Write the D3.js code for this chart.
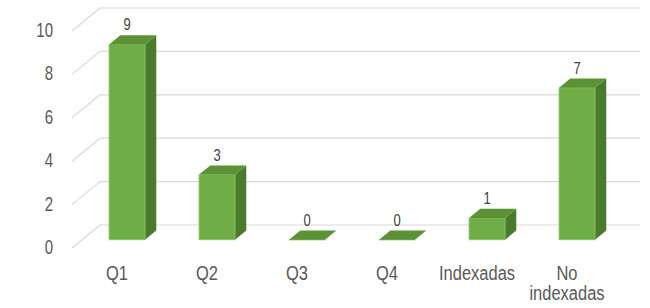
<!DOCTYPE html>
<html><head><meta charset="utf-8">
<script src="https://cdn.jsdelivr.net/npm/d3@7"></script>
<style>body{margin:0;background:#fff}svg{display:block}</style>
</head><body>
<svg id="c" width="650" height="308"></svg>
<script>
const categories = ["Q1", "Q2", "Q3", "Q4", "Indexadas", "No indexadas"];
const values = [9, 3, 0, 0, 1, 7];
const yTicks = [0, 2, 4, 6, 8, 10];

const svg = d3.select("#c");
const DX = 28, DY = -23;           // full floor depth offset
const zF = 0.36, zB = 0.76;        // bar front/back depth

const x = d3.scaleBand().domain(categories).range([72, 612]).paddingInner(0).paddingOuter(0);
const y = d3.scaleLinear().domain([0, 10]).range([248, 31]);
const barW = 36;
const P = (px, v, z) => [px + DX * z, y(v) + DY * z];
const FONT = "Liberation Sans, Arial, sans-serif";

// back wall gridlines + left diagonals + y tick labels
const g = svg.append("g");
yTicks.forEach(t => {
  const b0 = P(x.range()[0], t, 1), b1 = P(x.range()[1], t, 1);
  g.append("line").attr("x1", b0[0]).attr("y1", b0[1]).attr("x2", b1[0]).attr("y2", b1[1])
    .attr("stroke", "#d9d9d9").attr("stroke-width", 1.2);
  const f0 = P(x.range()[0], t, 0);
  g.append("line").attr("x1", f0[0]).attr("y1", f0[1]).attr("x2", b0[0]).attr("y2", b0[1])
    .attr("stroke", "#d9d9d9").attr("stroke-width", 1.2);
  svg.append("text").attr("transform", `translate(${f0[0] - 19},${f0[1] + 6}) scale(1,1.3)`)
    .attr("text-anchor", "end").attr("font-family", FONT)
    .attr("font-size", 15).attr("fill", "#595959").text(t);
});

// bars
const poly = pts => pts.map(p => p.join(",")).join(" ");
categories.forEach((c, i) => {
  const v = values[i];
  const cx = x(c) + x.bandwidth() / 2;
  const l = cx - barW / 2, r = cx + barW / 2;
  const bg = svg.append("g");
  bg.append("polygon").attr("points", poly([P(r, 0, zF), P(r, 0, zB), P(r, v, zB), P(r, v, zF)]))
    .attr("fill", "#4a7a2b");
  bg.append("polygon").attr("points", poly([P(l, 0, zF), P(r, 0, zF), P(r, v, zF), P(l, v, zF)]))
    .attr("fill", "#70ad47").attr("stroke", "#86c060").attr("stroke-width", 0.8);
  bg.append("polygon").attr("points", poly([P(l, v, zF), P(r, v, zF), P(r, v, zB), P(l, v, zB)]))
    .attr("fill", "#5b9236");
  const ft = P(cx, v, zF);
  svg.append("text").attr("transform", `translate(${ft[0]},${ft[1] - 14}) scale(1,1.3)`)
    .attr("text-anchor", "middle").attr("font-family", FONT)
    .attr("font-size", 13).attr("fill", "#404040").text(v);
  // category label (wrapped, centered)
  const words = c.split(" ");
  words.forEach((w, k) => {
    svg.append("text").attr("transform", `translate(${cx},${280 + k * 20}) scale(1,1.2)`)
      .attr("text-anchor", "middle").attr("font-family", FONT)
      .attr("font-size", 16.5).attr("fill", "#595959").text(w);
  });
});
</script>
</body></html>
